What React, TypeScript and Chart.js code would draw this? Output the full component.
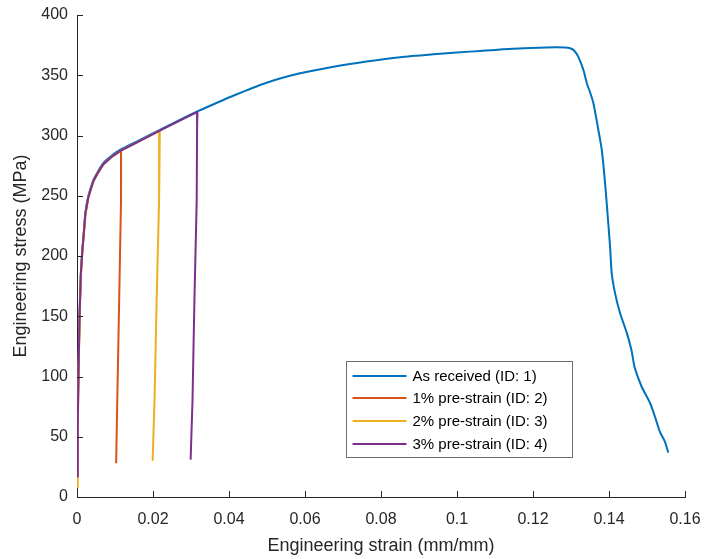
import React, { useEffect, useRef } from 'react';
import { Chart, registerables } from 'chart.js';

Chart.register(...registerables);

const seriesLabels = [
  'As received (ID: 1)',
  '1% pre-strain (ID: 2)',
  '2% pre-strain (ID: 3)',
  '3% pre-strain (ID: 4)',
];
const seriesColors = ['#0072BD', '#D95319', '#EDB120', '#7E2F8E'];

const strain1 = [0, 0.0002, 0.0004, 0.0007, 0.001, 0.0014, 0.0018, 0.0022, 0.003, 0.0043, 0.0055, 0.0069, 0.009, 0.0113, 0.0157, 0.0218, 0.0297, 0.0324, 0.0411, 0.0499, 0.0587, 0.0675, 0.0762, 0.085, 0.0938, 0.1008, 0.1061, 0.1148, 0.1236, 0.1284, 0.1298, 0.1308, 0.1319, 0.1333, 0.1342, 0.135, 0.1359, 0.1372, 0.1381, 0.1389, 0.1396, 0.1403, 0.1407, 0.1416, 0.1429, 0.1447, 0.1459, 0.1468, 0.1486, 0.1508, 0.1521, 0.1534, 0.1547, 0.1556];
const stress1 = [30, 70, 110, 155, 185, 205, 220, 236, 250, 263, 270, 277, 283, 288, 295, 304.6, 317, 321, 333, 343.8, 351.6, 357.1, 361.4, 365, 367.4, 369, 370.2, 372, 373.1, 373.1, 372.4, 370.5, 365.4, 354, 343, 336, 326.7, 304.6, 288, 263, 235.6, 207, 186, 169, 152.7, 136, 122, 107, 91.5, 78, 66.6, 54, 46, 36.8];

const strain2 = [0, 0.0002, 0.0004, 0.0007, 0.001, 0.0014, 0.0018, 0.0022, 0.003, 0.0043, 0.0055, 0.0069, 0.009, 0.0116, 0.01158, 0.0111, 0.0106, 0.0103];
const stress2 = [25, 65, 105, 152, 183, 204, 219, 234, 249, 262, 269, 276, 282, 287.5, 246, 163.5, 80.5, 28];

const strain3 = [0, 0.0002, 0.0004, 0.0007, 0.001, 0.0014, 0.0018, 0.0022, 0.003, 0.0043, 0.0055, 0.0069, 0.009, 0.0113, 0.0157, 0.0218, 0.0216, 0.02096, 0.0204, 0.0199];
const stress3 = [8, 55, 100, 150, 182, 203, 218, 234, 249, 262, 269, 276, 282, 287, 294, 304, 246, 163.5, 80.5, 30];

const strain4 = [0, 0.0002, 0.0004, 0.0007, 0.001, 0.0014, 0.0018, 0.0022, 0.003, 0.0043, 0.0055, 0.0069, 0.009, 0.0113, 0.0157, 0.0218, 0.0297, 0.0317, 0.0316, 0.0315, 0.0309, 0.0304, 0.0299];
const stress4 = [17, 60, 103, 153, 184, 204, 219, 235, 249, 262, 269, 276, 282, 287, 294, 304, 316.5, 319.5, 305, 246, 163.5, 80.5, 31];

const xTickMin = 0;
const xTickMax = 0.16;
const xTickStep = 0.02;
const yTickMin = 0;
const yTickMax = 400;
const yTickStep = 50;

const FONT = '"Liberation Sans", Arial, Helvetica, sans-serif';
const AXIS_COLOR = '#262626';

const toPoints = (xs: number[], ys: number[]) => xs.map((x, i) => ({ x, y: ys[i] }));

const inwardTicks = {
  id: 'inwardTicks',
  afterDraw(chart: any) {
    const ctx = chart.ctx;
    const { bottom, left } = chart.chartArea;
    const xs = chart.scales.x;
    const ys = chart.scales.y;
    ctx.save();
    ctx.strokeStyle = AXIS_COLOR;
    ctx.lineWidth = 1;
    xs.ticks.forEach((t: any) => {
      const px = Math.round(xs.getPixelForValue(t.value)) + 0.5;
      ctx.beginPath();
      ctx.moveTo(px, bottom);
      ctx.lineTo(px, bottom - 6);
      ctx.stroke();
    });
    ys.ticks.forEach((t: any) => {
      const py = Math.round(ys.getPixelForValue(t.value)) + 0.5;
      ctx.beginPath();
      ctx.moveTo(left, py);
      ctx.lineTo(left + 6, py);
      ctx.stroke();
    });
    ctx.restore();
  },
};

const boxLegend = {
  id: 'boxLegend',
  afterDraw(chart: any) {
    const ctx = chart.ctx;
    const { left, top } = chart.chartArea;
    const bx = left + 269.5;
    const by = top + 346.5;
    const bw = 226;
    const bh = 96;
    ctx.save();
    ctx.fillStyle = '#ffffff';
    ctx.fillRect(bx, by, bw, bh);
    ctx.strokeStyle = '#6e6e6e';
    ctx.lineWidth = 1;
    ctx.strokeRect(bx, by, bw, bh);
    ctx.font = `15px ${FONT}`;
    ctx.textBaseline = 'middle';
    ctx.textAlign = 'left';
    chart.data.datasets.forEach((ds: any, i: number) => {
      const cy = Math.round(by + 14 + i * 22.9);
      ctx.strokeStyle = ds.borderColor;
      ctx.lineWidth = 2;
      ctx.beginPath();
      ctx.moveTo(bx + 6, cy);
      ctx.lineTo(bx + 60, cy);
      ctx.stroke();
      ctx.fillStyle = '#000000';
      ctx.fillText(ds.label, bx + 66, cy + 0.5);
    });
    ctx.restore();
  },
};

export default function App() {
  const ref = useRef<HTMLCanvasElement>(null);

  useEffect(() => {
    document.body.style.margin = '0';
    const strains = [strain1, strain2, strain3, strain4];
    const stresses = [stress1, stress2, stress3, stress4];
    const chart = new Chart(ref.current as HTMLCanvasElement, {
      type: 'scatter',
      data: {
        datasets: seriesLabels.map((label, i) => ({
          label,
          data: toPoints(strains[i], stresses[i]),
          showLine: true,
          borderColor: seriesColors[i],
          backgroundColor: seriesColors[i],
          borderWidth: 2,
          pointRadius: 0,
          tension: i === 0 ? 0.25 : 0,
          order: 4 - i,
        })),
      },
      options: {
        animation: false,
        responsive: false,
        devicePixelRatio: 1,
        layout: { padding: { left: 0, right: 23, top: 15, bottom: 0 } },
        plugins: {
          legend: { display: false },
          tooltip: { enabled: false },
        },
        scales: {
          x: {
            type: 'linear',
            min: xTickMin,
            max: xTickMax,
            grid: { display: false, drawTicks: false },
            border: { display: true, color: AXIS_COLOR, width: 1 },
            ticks: {
              stepSize: xTickStep,
              color: AXIS_COLOR,
              font: { family: FONT, size: 16 },
              padding: 13,
              maxRotation: 0,
              autoSkip: false,
              callback: (v: any) => String(Number(Number(v).toFixed(2))),
            },
            title: {
              display: true,
              text: 'Engineering strain (mm/mm)',
              color: AXIS_COLOR,
              font: { family: FONT, size: 18 },
              padding: { top: 0, bottom: 2 },
            },
            afterFit: (scale: any) => {
              scale.height = 62;
              scale.paddingLeft = 0;
              scale.paddingRight = 0;
            },
          },
          y: {
            type: 'linear',
            min: yTickMin,
            max: yTickMax,
            grid: { display: false, drawTicks: false },
            border: { display: true, color: AXIS_COLOR, width: 1 },
            ticks: {
              stepSize: yTickStep,
              color: AXIS_COLOR,
              font: { family: FONT, size: 16 },
              padding: 9,
              autoSkip: false,
            },
            title: {
              display: true,
              text: 'Engineering stress (MPa)',
              color: AXIS_COLOR,
              font: { family: FONT, size: 18 },
              padding: { top: 10, bottom: 0 },
            },
            afterFit: (scale: any) => {
              scale.width = 77;
              scale.paddingTop = 0;
              scale.paddingBottom = 0;
            },
          },
        },
      },
      plugins: [inwardTicks, boxLegend],
    });
    return () => chart.destroy();
  }, []);

  return (
    <div style={{ position: 'fixed', left: 0, top: 0, width: 708, height: 559, background: '#ffffff' }}>
      <canvas ref={ref} width={708} height={559} style={{ display: 'block', width: 708, height: 559 }} />
    </div>
  );
}
